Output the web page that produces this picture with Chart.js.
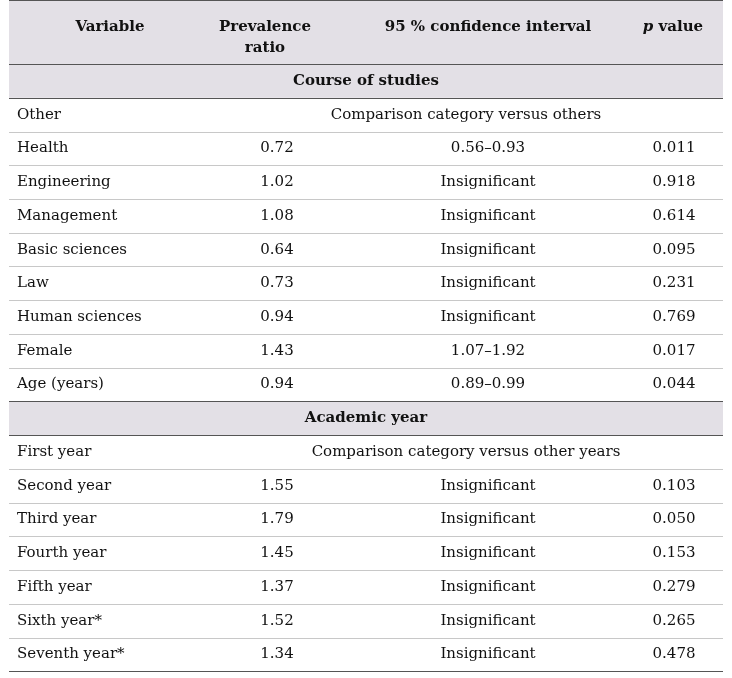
<!DOCTYPE html><html><head><meta charset="utf-8">
<script src="https://cdn.jsdelivr.net/npm/chart.js@4"></script>
<style>body{margin:0;background:#fff}canvas{display:block}</style></head><body>
<canvas id="c" width="732" height="678"></canvas>
<script>
const headers=["Variable","Prevalence\nratio","95 % confidence interval","p value"];
const variables=["Course of studies","Other","Health","Engineering","Management","Basic sciences","Law","Human sciences","Female","Age (years)","Academic year","First year","Second year","Third year","Fourth year","Fifth year","Sixth year*","Seventh year*"];
const ratios=[null,null,0.72,1.02,1.08,0.64,0.73,0.94,1.43,0.94,null,null,1.55,1.79,1.45,1.37,1.52,1.34];
const ratioText=["","","0.72","1.02","1.08","0.64","0.73","0.94","1.43","0.94","","","1.55","1.79","1.45","1.37","1.52","1.34"];
const cis=["","Comparison category versus others","0.56–0.93","Insignificant","Insignificant","Insignificant","Insignificant","Insignificant","1.07–1.92","0.89–0.99","","Comparison category versus other years","Insignificant","Insignificant","Insignificant","Insignificant","Insignificant","Insignificant"];
const pvalues=["","","0.011","0.918","0.614","0.095","0.231","0.769","0.017","0.044","","","0.103","0.050","0.153","0.279","0.265","0.478"];
const sections=[0,10];
const FONT='"DejaVu Serif", serif';
const tablePlugin={id:'table',beforeDatasetsDraw(ch){
 const c=ch.ctx,x=ch.scales.x,y=ch.scales.y;
 const L=x.getPixelForValue(9),R=x.getPixelForValue(723);
 c.save();
 c.fillStyle='#e3e0e6';
 c.fillRect(L,y.getPixelForValue(-1.9),R-L,y.getPixelForValue(0)-y.getPixelForValue(-1.9));
 sections.forEach(i=>c.fillRect(L,y.getPixelForValue(i),R-L,y.getPixelForValue(i+1)-y.getPixelForValue(i)));
 for(let i=1;i<variables.length;i++){
  const yy=Math.round(y.getPixelForValue(i))+0.5;
  const strong=sections.includes(i)||sections.includes(i-1);
  c.strokeStyle=strong?'#555':'#c8c8c8';c.lineWidth=1;
  c.beginPath();c.moveTo(L,yy);c.lineTo(R,yy);c.stroke();
 }
 c.strokeStyle='#555';
 [-1.9,0,18].forEach(v=>{const yy=Math.round(y.getPixelForValue(v))+0.5;c.beginPath();c.moveTo(L,yy);c.lineTo(R,yy);c.stroke();});
 c.fillStyle='#111';c.textBaseline='middle';
 c.font='bold 15px '+FONT;c.textAlign='center';
 const hx=[110,265,488,673];
 const top=y.getPixelForValue(-1.9);
 c.fillText(headers[0],x.getPixelForValue(hx[0]),top+27);
 c.fillText("Prevalence",x.getPixelForValue(hx[1]),top+27);
 c.fillText("ratio",x.getPixelForValue(hx[1]),top+48);
 c.fillText(headers[2],x.getPixelForValue(hx[2]),top+27);
 c.font='bold italic 15px '+FONT;const wp=c.measureText("p ").width;
 c.font='bold 15px '+FONT;const wv=c.measureText("value").width;
 const sx=x.getPixelForValue(hx[3])-(wp+wv)/2;
 c.textAlign='left';
 c.font='bold italic 15px '+FONT;c.fillText("p",sx,top+27);
 c.font='bold 15px '+FONT;c.fillText("value",sx+wp,top+27);
 variables.forEach((v,i)=>{
  const yy=y.getPixelForValue(i+0.5);
  if(sections.includes(i)){c.font='bold 15px '+FONT;c.textAlign='center';c.fillText(v,x.getPixelForValue(366),yy);return;}
  c.font='15px '+FONT;c.textAlign='left';c.fillText(v,x.getPixelForValue(17),yy);
  c.textAlign='center';
  if(ratioText[i])c.fillText(ratioText[i],x.getPixelForValue(277),yy);
  if(cis[i]){c.fillText(cis[i],x.getPixelForValue(ratioText[i]?488:466),yy);}
  if(pvalues[i])c.fillText(pvalues[i],x.getPixelForValue(674),yy);
 });
 c.restore();
}};
new Chart(document.getElementById('c'),{type:'scatter',
 data:{datasets:[{data:ratios.map((r,i)=>r==null?null:{x:277,y:i+0.5}),pointRadius:0}]},
 options:{responsive:false,animation:false,events:[],layout:{padding:0},
  plugins:{legend:{display:false},tooltip:{enabled:false}},
  scales:{x:{type:'linear',min:0,max:732,display:false},y:{type:'linear',min:-1.9,max:18.2,reverse:true,display:false}}},
 plugins:[tablePlugin]});
</script></body></html>
